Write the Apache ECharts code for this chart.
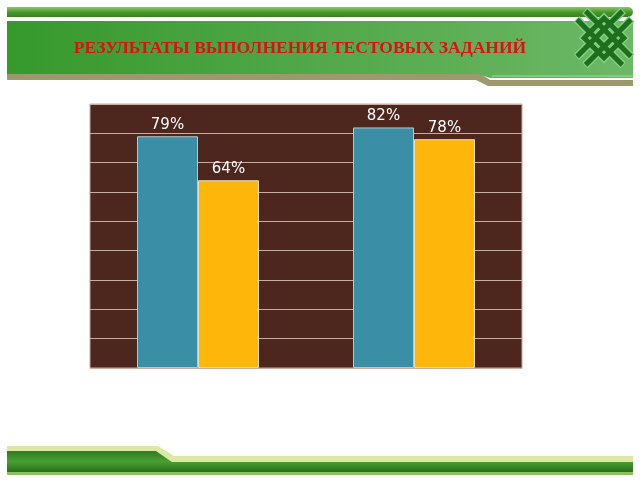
<!DOCTYPE html>
<html>
<head>
<meta charset="utf-8">
<script src="https://cdn.jsdelivr.net/npm/echarts@6/dist/echarts.min.js"></script>
<style>html,body{margin:0;padding:0;background:#fff;}#c{width:640px;height:480px;}</style>
</head>
<body>
<div id="c"></div>
<script>
var categories = ['Группа 1', 'Группа 2'];
var seriesA = [79, 82];
var seriesB = [64, 78];
var yTicks = [0, 10, 20, 30, 40, 50, 60, 70, 80, 90];
var titleText = 'РЕЗУЛЬТАТЫ ВЫПОЛНЕНИЯ ТЕСТОВЫХ ЗАДАНИЙ';

var chart = echarts.init(document.getElementById('c'), null, {renderer: 'canvas'});

var dark = '#1e6e1e', light = '#7fd07f';
function kl(x1, y1, x2, y2, c, w, z) {
  return {type: 'line', z: z || 10, shape: {x1: x1, y1: y1, x2: x2, y2: y2}, style: {stroke: c, lineWidth: w}};
}

var graphics = [
  {type: 'rect', z: 0, shape: {x: 7, y: 7, width: 626, height: 10, r: [0, 5, 5, 0]},
   style: {fill: new echarts.graphic.LinearGradient(0, 0, 0, 1, [{offset: 0, color: '#8fc46a'}, {offset: 0.5, color: '#4a9a2c'}, {offset: 1, color: '#3a7d22'}])}},
  {type: 'polygon', z: 0, shape: {points: [[7, 72], [478, 72], [490, 80], [633, 80], [633, 86], [488, 86], [476, 80], [7, 80]]},
   style: {fill: '#9c9a6c'}},
  {type: 'polygon', z: 1, shape: {points: [[7, 21], [633, 21], [633, 78], [490, 78], [478, 74], [7, 74]]},
   style: {fill: new echarts.graphic.LinearGradient(0, 0, 1, 0, [{offset: 0, color: '#35992c'}, {offset: 0.5, color: '#52a84a'}, {offset: 1, color: '#6cb866'}])}},
  {type: 'line', z: 2, shape: {x1: 492, y1: 76, x2: 633, y2: 76}, style: {stroke: '#a8d8a0', lineWidth: 1}},
  {type: 'group', x: 604, y: 38, rotation: Math.PI / 4, z: 10, children: [
    {type: 'rect', z: 10, shape: {x: -14, y: -14, width: 28, height: 28}, style: {fill: 'none', stroke: light, lineWidth: 8}},
    kl(-33, -6, 33, -6, light, 8),
    kl(-6, -33, -6, 33, light, 8),
    kl(-33, 6, 33, 6, light, 8),
    kl(6, -33, 6, 33, light, 8),
    {type: 'rect', z: 11, shape: {x: -14, y: -14, width: 28, height: 28}, style: {fill: 'none', stroke: dark, lineWidth: 5}},
    kl(-32, -6, 32, -6, dark, 5, 11),
    kl(-6, -32, -6, 32, dark, 5, 11),
    kl(-32, 6, 32, 6, dark, 5, 11),
    kl(6, -32, 6, 32, dark, 5, 11)
  ]},
  {type: 'text', x: 300, y: 48, z: 4,
   style: {text: titleText, fill: '#e01010', font: 'bold 17.5px "Liberation Serif", serif', textAlign: 'center', textVerticalAlign: 'middle'}},
  {type: 'polygon', z: 0, shape: {points: [[7, 446], [158, 446], [174, 456], [633, 456], [633, 462], [172, 462], [156, 451], [7, 451]]},
   style: {fill: '#dce8a4'}},
  {type: 'polygon', z: 1, shape: {points: [[7, 451], [156, 451], [172, 462], [633, 462], [633, 472], [7, 472]]},
   style: {fill: new echarts.graphic.LinearGradient(0, 0, 0, 1, [{offset: 0, color: '#2f7a22'}, {offset: 0.5, color: '#48a032'}, {offset: 1, color: '#2d6e1e'}])}},
  {type: 'rect', z: 1, shape: {x: 7, y: 472, width: 626, height: 3}, style: {fill: '#8cc060'}}
];

chart.setOption({
  animation: false,
  backgroundColor: '#ffffff',
  graphic: graphics,
  grid: {left: 90, right: 118, top: 104, bottom: 112, show: true, backgroundColor: '#4d261e', borderColor: '#c9aca4', borderWidth: 1},
  xAxis: {type: 'category', data: categories, axisLine: {show: false}, axisTick: {show: false}, axisLabel: {show: false}},
  yAxis: {type: 'value', min: yTicks[0], max: yTicks[yTicks.length - 1], interval: 10,
    axisLine: {show: false}, axisTick: {show: false}, axisLabel: {show: false},
    splitLine: {lineStyle: {color: '#c9aca4', width: 1}}},
  series: [
    {type: 'bar', data: seriesA, barWidth: 61, barGap: '0%',
     itemStyle: {color: '#3a8fa6', borderColor: '#b8c8cc', borderWidth: 1},
     label: {show: true, position: 'top', formatter: '{c}%', color: '#ffffff', fontSize: 15, fontFamily: 'DejaVu Sans', distance: 4}},
    {type: 'bar', data: seriesB, barWidth: 61,
     itemStyle: {color: '#ffb60a', borderColor: '#e8dcc0', borderWidth: 1},
     label: {show: true, position: 'top', formatter: '{c}%', color: '#ffffff', fontSize: 15, fontFamily: 'DejaVu Sans', distance: 4}}
  ]
});
</script>
</body>
</html>
